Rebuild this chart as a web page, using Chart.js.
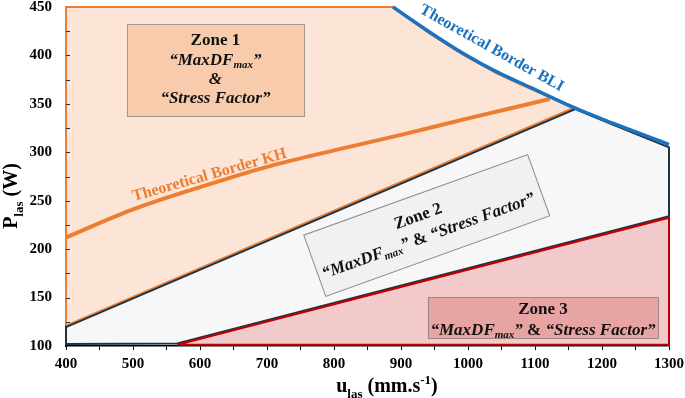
<!DOCTYPE html>
<html lang="en">
<head>
<meta charset="utf-8">
<title>Zones P_las / u_las</title>
<script src="https://cdn.jsdelivr.net/npm/chart.js@4.4.1/dist/chart.umd.min.js"></script>
<style>
  html, body { margin: 0; padding: 0; background: #fff; }
  #zone { position: relative; width: 685px; height: 398px; }
</style>
</head>
<body>
<div id="zone"><canvas id="graph" width="685" height="398"></canvas></div>
<script>
// --- data (u_las in mm.s-1, P_las in W) ---
// theoretical border BLI
const bliU = [888, 943, 993, 1043, 1093, 1160, 1216, 1300];
const bliP = [450, 424, 402, 383, 367, 345.5, 330, 308];
// theoretical border KH
const khU = [400, 500, 600, 700, 800, 900, 1000, 1122];
const khP = [212, 241, 264, 285, 302, 318, 335, 355];
// zone 1 outline (closed)
const zone1U = [400, 400, 888, 943, 993, 1043, 1093, 1160, 400];
const zone1P = [121, 450, 450, 422.5, 400.5, 381.5, 365.5, 346.5, 121];
// zone 2 outline (closed)
const zone2U = [400, 1160, 1216, 1300, 1300, 566, 400, 400];
const zone2P = [119.5, 344.5, 328.5, 305, 234, 102.5, 102, 119.5];
// zone 3 outline (closed)
const zone3U = [566, 1300, 1300, 566];
const zone3P = [101.3, 232.5, 101.3, 101.3];
// axis
const uMin = 400, uMax = 1300, uStep = 50;
const pMin = 100, pMax = 450, pStep = 25;

const serif = '"Liberation Serif", "Times New Roman", serif';
function police(size, it) {
	return (it ? 'italic ' : '') + 'bold ' + size + 'px ' + serif;
}
function pts(us, ps) {
	return us.map(function (u, i) { return {x: u, y: ps[i]}; });
}

// draw one line of text made of several parts (sub/sup/italic)
function ligne(ctx, parts, x, y, size, align) {
	var w = 0;
	parts.forEach(function (p) {
		var s = (p.sub || p.sup) ? size * 0.65 : size;
		ctx.font = police(s, p.it);
		p.w = ctx.measureText(p.t).width;
		w += p.w;
	});
	var cx = align === 'center' ? x - w / 2 : x;
	parts.forEach(function (p) {
		var s = (p.sub || p.sup) ? size * 0.65 : size;
		ctx.font = police(s, p.it);
		var dy = p.sub ? size * 0.28 : (p.sup ? -size * 0.38 : 0);
		ctx.fillText(p.t, cx, y + dy);
		cx += p.w;
	});
}

const maxDF = [{t: '\u201CMaxDF', it: true}, {t: 'max', it: true, sub: true}, {t: '\u201D', it: true}];
const stress = [{t: '\u201CStress Factor\u201D', it: true}];

// annotation boxes (data units for anchors)
const boites = [
	{u0: 491, u1: 755, p0: 337.4, p1: 432.3, fond: '#f8cbad', bord: '#a09890',
		lignes: [[{t: 'Zone 1'}], maxDF, [{t: '&', it: true}], stress], dy: [-29, -9.7, 9.7, 29]},
	{u0: 940, u1: 1284, p0: 108.3, p1: 150.6, fond: '#e8a3a3', bord: '#9a8585',
		lignes: [[{t: 'Zone 3'}], maxDF.concat([{t: ' & '}], stress)], dy: [-8, 13]}
];

const annotations = {
	id: 'annotations',
	afterDatasetsDraw(chart) {
		const ctx = chart.ctx;
		const xs = chart.scales.x, ys = chart.scales.y;
		const area = chart.chartArea;
		ctx.save();

		// petites graduations vers l'interieur sur l'axe y
		ctx.strokeStyle = '#333';
		ctx.lineWidth = 1;
		for (var v = pMin + pStep; v < pMax; v += pStep) {
			var py = Math.round(ys.getPixelForValue(v)) + 0.5;
			ctx.beginPath();
			ctx.moveTo(area.left, py);
			ctx.lineTo(area.left + 4, py);
			ctx.stroke();
		}

		ctx.textBaseline = 'middle';
		ctx.textAlign = 'left';

		// boites zone 1 et zone 3
		boites.forEach(function (b) {
			var x0 = xs.getPixelForValue(b.u0), x1 = xs.getPixelForValue(b.u1);
			var y0 = ys.getPixelForValue(b.p1), y1 = ys.getPixelForValue(b.p0);
			ctx.fillStyle = b.fond;
			ctx.fillRect(x0, y0, x1 - x0, y1 - y0);
			ctx.strokeStyle = b.bord;
			ctx.lineWidth = 1;
			ctx.strokeRect(Math.round(x0) + 0.5, Math.round(y0) + 0.5, Math.round(x1 - x0), Math.round(y1 - y0));
			ctx.fillStyle = '#111';
			var cx = (x0 + x1) / 2, cy = (y0 + y1) / 2;
			b.lignes.forEach(function (l, i) {
				ligne(ctx, l, cx, cy + b.dy[i], 17, 'center');
			});
		});

		// boite zone 2 (inclinee)
		ctx.save();
		ctx.translate(xs.getPixelForValue(938.4), ys.getPixelForValue(224.5));
		ctx.rotate(-19.8 * Math.PI / 180);
		ctx.fillStyle = '#f1f1f1';
		ctx.fillRect(-119, -32.5, 238, 65);
		ctx.strokeStyle = '#8a8a8a';
		ctx.strokeRect(-119, -32.5, 238, 65);
		ctx.fillStyle = '#111';
		ligne(ctx, [{t: 'Zone 2'}], -5, -11, 17, 'center');
		ligne(ctx, maxDF.concat([{t: ' & '}], stress), -2, 11, 17, 'center');
		ctx.restore();

		// Theoretical Border KH
		ctx.save();
		ctx.translate(xs.getPixelForValue(616), ys.getPixelForValue(272.2));
		ctx.rotate(-15.9 * Math.PI / 180);
		ctx.fillStyle = '#ed7d31';
		ctx.textBaseline = 'alphabetic';
		ligne(ctx, [{t: 'Theoretical Border KH'}], 0, 0, 16, 'center');
		ctx.restore();

		// Theoretical Border BLI
		ctx.save();
		ctx.translate(xs.getPixelForValue(1035.4), ys.getPixelForValue(407.3));
		ctx.rotate(29.2 * Math.PI / 180);
		ctx.fillStyle = '#1a72c0';
		ligne(ctx, [{t: 'Theoretical Border BLI'}], 0, 0, 16, 'center');
		ctx.restore();

		// titres des axes
		ctx.fillStyle = '#000';
		ctx.textBaseline = 'alphabetic';
		ligne(ctx, [{t: 'u'}, {t: 'las', sub: true}, {t: ' (mm.s'}, {t: '-1', sup: true}, {t: ')'}], 387, 392, 20, 'center');
		ctx.save();
		ctx.translate(17, 196);
		ctx.rotate(-Math.PI / 2);
		ligne(ctx, [{t: 'P'}, {t: 'las', sub: true}, {t: ' (W)'}], 0, 0, 20, 'center');
		ctx.restore();

		ctx.restore();
	}
};

var ctx = document.getElementById('graph').getContext('2d');
var graphique = new Chart(ctx, {
	type: 'scatter',
	data: {
		datasets: [{
			data: pts(bliU, bliP),
			showLine: true, borderColor: '#1a72c0', borderWidth: 3.5,
			cubicInterpolationMode: 'monotone', pointRadius: 0, fill: false, clip: false
		}, {
			data: pts(khU, khP),
			showLine: true, borderColor: '#ed7d31', borderWidth: 4,
			cubicInterpolationMode: 'monotone', pointRadius: 0, fill: false, clip: false
		}, {
			data: pts(zone3U, zone3P),
			showLine: true, borderColor: '#c00000', borderWidth: 2,
			backgroundColor: '#f3cacb', fill: 'shape', pointRadius: 0, clip: false
		}, {
			data: pts(zone2U, zone2P),
			showLine: true, borderColor: '#1d3444', borderWidth: 2,
			backgroundColor: '#f7f7f7', fill: 'shape', pointRadius: 0, clip: false
		}, {
			data: pts(zone1U, zone1P),
			showLine: true, borderColor: '#ed7d31', borderWidth: 2,
			backgroundColor: '#fce4d6', fill: 'shape', pointRadius: 0, clip: false
		}]
	},
	options: {
		responsive: false,
		animation: false,
		devicePixelRatio: 1,
		layout: {padding: {top: 7, right: 16, left: 0, bottom: 0}},
		plugins: {legend: {display: false}, tooltip: {enabled: false}},
		scales: {
			x: {
				type: 'linear', min: uMin, max: uMax,
				afterFit: function (s) {
					s.height = 52;
					s.paddingLeft = 0; s.paddingRight = 0;
				},
				ticks: {
					stepSize: uStep, autoSkip: false, maxRotation: 0, padding: 5, color: '#000',
					font: {family: serif, size: 15, weight: 'bold'},
					callback: function (v) { return v % 100 === 0 ? v : ''; }
				},
				grid: {drawOnChartArea: false, drawTicks: true, tickLength: 4, color: '#000'},
				border: {color: '#000', width: 1.5}
			},
			y: {
				type: 'linear', min: pMin, max: pMax,
				afterFit: function (s) {
					s.width = 66;
					s.paddingTop = 0; s.paddingBottom = 0;
				},
				ticks: {
					stepSize: pStep, autoSkip: false, padding: 14, color: '#000',
					font: {family: serif, size: 15, weight: 'bold'},
					callback: function (v) { return v % 50 === 0 ? v : ''; }
				},
				grid: {drawOnChartArea: false, drawTicks: false},
				border: {color: '#000', width: 1.5}
			}
		}
	},
	plugins: [annotations]
});
</script>
</body>
</html>
